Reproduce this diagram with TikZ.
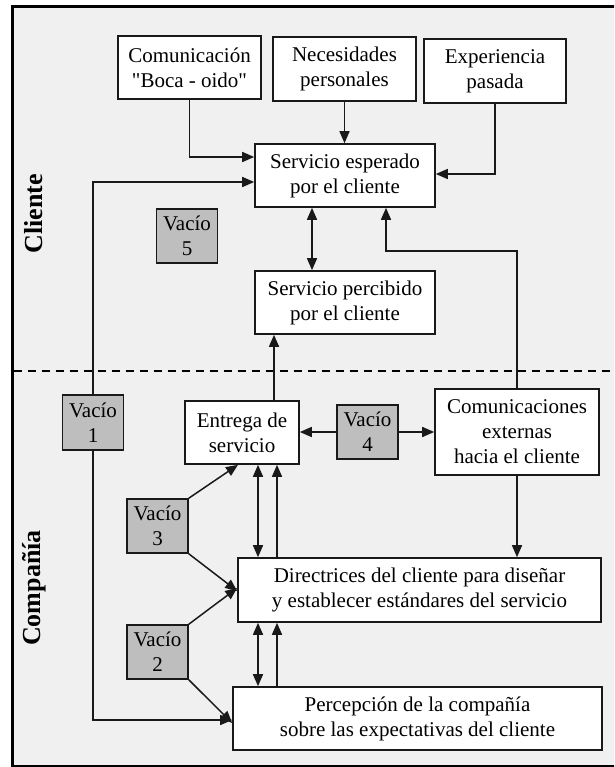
\documentclass[tikz,border=0pt]{standalone}
\usepackage{fontspec}
\setmainfont{Liberation Serif}
\newfontfamily\qfont{Liberation Serif}
\usetikzlibrary{arrows.meta,calc}
\definecolor{bgc}{RGB}{240,240,240}
\definecolor{gapc}{RGB}{190,190,190}
\definecolor{edgec}{RGB}{25,25,25}
\tikzset{
  box/.style={draw=edgec, line width=1.6pt, fill=white, align=center, inner sep=0pt,
    font=\fontsize{21}{25}\selectfont},
  gapbox/.style={box, fill=gapc, minimum width=61pt, minimum height=54pt},
  arr/.style={draw=edgec, line width=1.5pt, -{Triangle[length=12pt,width=10pt]}},
  barr/.style={draw=edgec, line width=1.5pt, {Triangle[length=12pt,width=10pt]}-{Triangle[length=12pt,width=10pt]}},
  side/.style={rotate=90, font=\bfseries\fontsize{26}{30}\selectfont}
}
\begin{document}
\begin{tikzpicture}[x=1pt,y=-1pt]
\useasboundingbox (0,0) rectangle (614,767);
\fill[white] (0,0) rectangle (614,767);
\begin{scope}
\clip (0,0) rectangle (614,767);
\draw[line width=3pt, fill=bgc] (12,7) rectangle (640,766);
\end{scope}
\draw[line width=1.8pt, dash pattern=on 8pt off 6pt] (13.5,371) -- (614,371);

\node[side] (cli) at (34,214) {Cliente};
\node[side] (comp) at (34,588) {Compañía};

\node[box, minimum width=143pt, minimum height=63pt] (com) at (189.5,67.5) {Comunicación\\{\qfont"}Boca - oido{\qfont"}};
\node[box, minimum width=143pt, minimum height=64pt] (nec) at (344.5,69) {Necesidades\\personales};
\node[box, minimum width=142pt, minimum height=64pt] (exp) at (495,71) {Experiencia\\pasada};
\node[box, minimum width=180pt, minimum height=63pt] (esp) at (345,175.5) {Servicio esperado\\por el cliente};
\node[gapbox] (v5) at (187,236) {Vacío\\5};
\node[box, minimum width=180pt, minimum height=63pt] (per) at (345,302.5) {Servicio percibido\\por el cliente};
\node[gapbox, minimum height=55pt] (v1) at (93,422.5) {Vacío\\1};
\node[box, minimum width=114pt, minimum height=63pt] (ent) at (242,432.5) {Entrega de\\servicio};
\node[gapbox] (v4) at (367.5,432) {Vacío\\4};
\node[box, minimum width=164pt, minimum height=86pt] (ce) at (517,432) {Comunicaciones\\externas\\hacia el cliente};
\node[gapbox] (v3) at (157.5,526) {Vacío\\3};
\node[gapbox] (v2) at (157.5,652) {Vacío\\2};
\node[box, minimum width=363pt, minimum height=64pt] (dir) at (419.5,590) {Directrices del cliente para diseñar\\y establecer estándares del servicio};
\node[box, minimum width=369pt, minimum height=63pt] (perc) at (417.5,718.5) {Percepción de la compañía\\sobre las expectativas del cliente};

% client side
\draw[arr] (com.south) |- ([yshift=18.5pt]esp.west);
\draw[arr] (nec.south) -- (nec.south |- esp.north);
\draw[arr] (exp.south) |- ([yshift=1.5pt]esp.east);
\draw[arr] (v1.north) |- ([yshift=-6.5pt]esp.west);
\draw[arr] (v1.south) |- ([yshift=-1.5pt]perc.west);
\draw[barr] ([xshift=-33pt]esp.south) -- ([xshift=-33pt]per.north);
\draw[arr] (ce.north) -- ++(0,-137) -| ([xshift=41pt]esp.south);
\draw[arr] ([xshift=32pt]ent.north) -- ([xshift=32pt]ent.north |- per.south);

% company side
\draw[arr] (v4.west) -- (v4.west -| ent.east);
\draw[arr] (v4.east) -- (v4.east -| ce.west);
\draw[arr] (v3.north east) -- ([xshift=-4pt]ent.south);
\draw[arr] (v3.south east) -- ([yshift=-1pt]dir.west);
\draw[arr] (v2.north east) -- ([yshift=2pt]dir.west);
\draw[arr] (v2.south east) -- ([yshift=-4.5pt]perc.west);
\draw[arr] (ce.south) -- (ce.south |- dir.north);
\draw[barr] ([xshift=16pt]ent.south) -- ([xshift=16pt]ent.south |- dir.north);
\draw[arr] ([xshift=35pt]ent.south |- dir.north) -- ([xshift=35pt]ent.south);
\draw[barr] ([xshift=16pt]ent.south |- dir.south) -- ([xshift=16pt]ent.south |- perc.north);
\draw[arr] ([xshift=35pt]ent.south |- perc.north) -- ([xshift=35pt]ent.south |- dir.south);
\end{tikzpicture}
\end{document}
